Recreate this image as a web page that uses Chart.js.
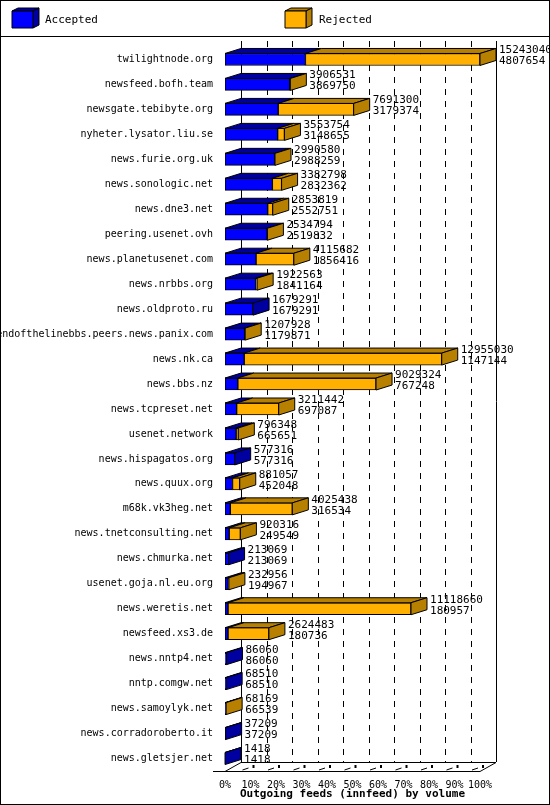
<!DOCTYPE html>
<html><head><meta charset="utf-8">
<script src="https://cdn.jsdelivr.net/npm/chart.js@4"></script>
<style>html,body{margin:0;padding:0;background:#fff}canvas{display:block}</style>
</head><body>
<div style="width:550px;height:805px"><canvas id="c" width="550" height="805"></canvas></div>
<script>
const categories = ["twilightnode.org","newsfeed.bofh.team","newsgate.tebibyte.org","nyheter.lysator.liu.se","news.furie.org.uk","news.sonologic.net","news.dne3.net","peering.usenet.ovh","news.planetusenet.com","news.nrbbs.org","news.oldproto.ru","endofthelinebbs.peers.news.panix.com","news.nk.ca","news.bbs.nz","news.tcpreset.net","usenet.network","news.hispagatos.org","news.quux.org","m68k.vk3heg.net","news.tnetconsulting.net","news.chmurka.net","usenet.goja.nl.eu.org","news.weretis.net","newsfeed.xs3.de","news.nntp4.net","nntp.comgw.net","news.samoylyk.net","news.corradoroberto.it","news.gletsjer.net"];
const offered = [15243040,3906531,7691300,3553754,2990580,3382798,2853819,2534794,4115682,1922563,1679291,1207928,12955030,9029324,3211442,796348,577316,881057,4025438,920316,213069,232956,11118660,2624483,86060,68510,68169,37209,1418];
const accepted = [4807654,3869750,3179374,3148655,2988259,2832362,2552751,2519832,1856416,1841164,1679291,1179871,1147144,767248,697087,665651,577316,452048,316534,249549,213069,194967,180957,180736,86060,68510,66539,37209,1418];
const rejected = offered.map((v,i)=>v-accepted[i]);
const tickLabels = ["0%","10%","20%","30%","40%","50%","60%","70%","80%","90%","100%"];
const maxVal = Math.max(...offered);

const DX=16, DY=-5, FONT='11px "DejaVu Sans Mono", monospace';
const BLUE='#0000ff', BLUE_D='#0000a0', ORANGE='#ffb000', ORANGE_D='#b88000';

function poly(ctx,pts,fill){ctx.beginPath();ctx.moveTo(pts[0][0],pts[0][1]);for(let i=1;i<pts.length;i++)ctx.lineTo(pts[i][0],pts[i][1]);ctx.closePath();ctx.fillStyle=fill;ctx.fill();ctx.strokeStyle='#000';ctx.lineWidth=1;ctx.stroke();}

const deco = {
  id:'deco',
  beforeDatasetsDraw(chart){
    const ctx=chart.ctx, a=chart.chartArea, xs=chart.scales.x;
    ctx.save();
    // frame and legend separator
    ctx.strokeStyle='#000';ctx.lineWidth=1;
    ctx.strokeRect(0.5,0.5,549,804);
    ctx.beginPath();ctx.moveTo(0,36.5);ctx.lineTo(550,36.5);ctx.stroke();
    // legend
    poly(ctx,[[12,11],[18,8],[39,8],[33,11]],BLUE_D);
    poly(ctx,[[33,11],[39,8],[39,25],[33,28]],BLUE_D);
    poly(ctx,[[12,11],[33,11],[33,28],[12,28]],BLUE);
    poly(ctx,[[285,11],[291,8],[312,8],[306,11]],ORANGE_D);
    poly(ctx,[[306,11],[312,8],[312,25],[306,28]],ORANGE_D);
    poly(ctx,[[285,11],[306,11],[306,28],[285,28]],ORANGE);
    ctx.fillStyle='#000';ctx.font=FONT;ctx.textBaseline='middle';ctx.textAlign='left';
    ctx.fillText('Accepted',45,20);ctx.fillText('Rejected',319,20);
    // back plane grid
    const top=a.top-6, bot=a.bottom+DY-4;
    for(let i=0;i<=10;i++){
      const x=Math.round(xs.getPixelForValue(maxVal*i/10))+DX+0.5;
      ctx.beginPath();
      if(i===0||i===10){ctx.setLineDash([]);}else ctx.setLineDash([6,6]);
      ctx.moveTo(x,top);ctx.lineTo(x,bot);ctx.stroke();
    }
    ctx.setLineDash([]);
    // floor
    const x0=xs.getPixelForValue(0), x1=xs.getPixelForValue(maxVal);
    ctx.beginPath();
    ctx.moveTo(x0-12,a.bottom+0.5);ctx.lineTo(x1,a.bottom+0.5);ctx.lineTo(x1+DX,bot+0.5);ctx.lineTo(x0+DX,bot+0.5);ctx.lineTo(x0,a.bottom+0.5);
    ctx.stroke();
    for(let i=1;i<=10;i++){
      const x=xs.getPixelForValue(maxVal*i/10);
      ctx.beginPath();ctx.moveTo(x-8,a.bottom-1);ctx.lineTo(x-2,a.bottom-3);ctx.stroke();
      ctx.fillRect(x+2,a.bottom-6,2,3);
    }
    ctx.restore();
  },
  afterDatasetsDraw(chart){
    const ctx=chart.ctx, xs=chart.scales.x;
    const m0=chart.getDatasetMeta(0).data, m1=chart.getDatasetMeta(1).data;
    ctx.save();
    for(let i=0;i<categories.length;i++){
      const b0=m0[i], b1=m1[i];
      const h=b0.height, t=b0.y-h/2, bo=b0.y+h/2;
      const xa0=xs.getPixelForValue(0), xa=b0.x, xr=b1.x;
      // top faces
      if(xa>xa0) poly(ctx,[[xa0,t],[xa0+DX,t+DY],[xa+DX,t+DY],[xa,t]],BLUE_D);
      if(xr>xa) poly(ctx,[[xa,t],[xa+DX,t+DY],[xr+DX,t+DY],[xr,t]],ORANGE_D);
      // side face
      const sideCol = rejected[i]>0 ? ORANGE_D : BLUE_D;
      poly(ctx,[[xr,t],[xr+DX,t+DY],[xr+DX,bo+DY],[xr,bo]],sideCol);
      ctx.fillStyle='#000';ctx.font=FONT;ctx.textAlign='left';ctx.textBaseline='middle';
      ctx.fillText(String(offered[i]),xr+DX+3,b0.y-9);
      ctx.fillText(String(accepted[i]),xr+DX+3,b0.y+2);
    }
    ctx.restore();
  }
};

new Chart(document.getElementById('c'),{
  type:'bar',
  data:{labels:categories,datasets:[
    {label:'Accepted',data:accepted,backgroundColor:BLUE,borderColor:'#000',borderWidth:1,borderSkipped:false,barThickness:12},
    {label:'Rejected',data:rejected,backgroundColor:ORANGE,borderColor:'#000',borderWidth:1,borderSkipped:false,barThickness:12}
  ]},
  options:{
    indexAxis:'y',responsive:false,animation:false,devicePixelRatio:1,
    layout:{padding:{top:47,right:70,bottom:0,left:0}},
    plugins:{legend:{display:false},tooltip:{enabled:false}},
    scales:{
      x:{stacked:true,min:0,max:maxVal,grid:{display:false},border:{display:false},
        afterBuildTicks(s){s.ticks=tickLabels.map((_,i)=>({value:maxVal*i/10}));},
        ticks:{color:'#000',font:{family:'DejaVu Sans Mono',size:10},padding:0,maxRotation:0,autoSkip:false,
          callback:(v,i)=>tickLabels[i]},
        title:{display:true,text:'Outgoing feeds (innfeed) by volume',color:'#000',font:{family:'DejaVu Sans Mono',size:11,weight:'bold'},padding:{top:0,bottom:4}},
        afterFit(s){s.height=34;}
      },
      y:{stacked:true,grid:{display:false},border:{display:false},
        ticks:{color:'#000',font:{family:'DejaVu Sans Mono',size:10},padding:4,autoSkip:false},
        afterFit(s){s.width=225;}
      }
    }
  },
  plugins:[deco]
});
</script>
</body></html>
